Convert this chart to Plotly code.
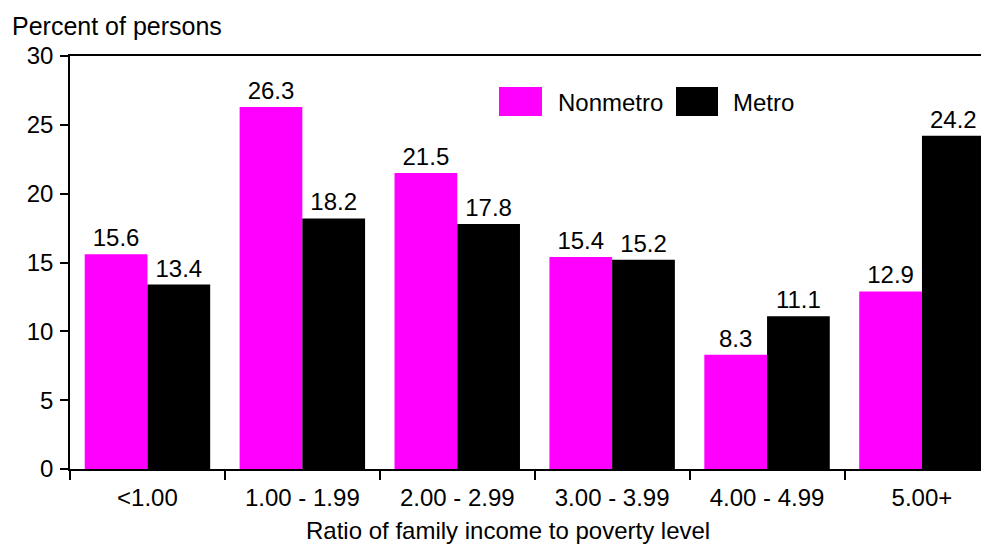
import plotly.graph_objects as go

categories = ["<1.00", "1.00 - 1.99", "2.00 - 2.99", "3.00 - 3.99", "4.00 - 4.99", "5.00+"]
nonmetro = [15.6, 26.3, 21.5, 15.4, 8.3, 12.9]
metro = [13.4, 18.2, 17.8, 15.2, 11.1, 24.2]
y_ticks = [0, 5, 10, 15, 20, 25, 30]

# the page body has an 8px margin; compensate so the figure fills the window
OFF = 8
W, H = 989 - OFF, 546 - OFF
L, T = 70 - OFF, 56 - OFF
BOTTOM_PX = 469 - OFF
B = H - BOTTOM_PX
PW = W - L
PH = H - T - B
FONT = "Liberation Sans, Arial, sans-serif"
FS = 24


def px(x):
    return (x - OFF - L) / PW


def py(y):
    return (BOTTOM_PX - (y - OFF)) / PH


fig = go.Figure()
fig.add_trace(go.Bar(x=categories, y=nonmetro, name="Nonmetro", marker_color="#FF00FF",
                     marker_line_width=0, text=[f"{v:.1f}" for v in nonmetro],
                     textposition="outside", textfont=dict(size=FS, color="black"),
                     cliponaxis=False))
fig.add_trace(go.Bar(x=categories, y=metro, name="Metro", marker_color="#000000",
                     marker_line_width=0, text=[f"{v:.1f}" for v in metro],
                     textposition="outside", textfont=dict(size=FS, color="black"),
                     cliponaxis=False))

fig.update_layout(
    width=W, height=H,
    margin=dict(l=L, r=0, t=T, b=B, pad=0),
    barmode="group", bargap=0.19, bargroupgap=0,
    plot_bgcolor="white", paper_bgcolor="white",
    showlegend=False,
    font=dict(family=FONT, size=FS, color="black"),
    uniformtext=dict(mode=False),
)
fig.update_xaxes(
    range=[-0.5, -0.5 + PW / 154.9], showline=True, linecolor="black", linewidth=1.5,
    mirror=True, ticks="outside", ticklen=9, tickcolor="black", tickwidth=1.5,
    tickson="boundaries", showgrid=False, tickfont=dict(size=FS), fixedrange=True,
    ticklabelstandoff=6,
)
fig.update_yaxes(
    range=[0, 30], tickvals=y_ticks, showline=True, linecolor="black", linewidth=1.5,
    ticks="outside", ticklen=8, tickcolor="black", tickwidth=1.5, showgrid=False,
    zeroline=False, tickfont=dict(size=FS), fixedrange=True, ticklabelstandoff=2,
)

# y-axis title
fig.add_annotation(text="Percent of persons", xref="paper", yref="paper",
                   x=px(10), y=py(26), xanchor="left", yanchor="middle",
                   showarrow=False, font=dict(size=25))
# x-axis title
fig.add_annotation(text="Ratio of family income to poverty level", xref="paper", yref="paper",
                   x=px(508), y=py(546), xanchor="center", yanchor="bottom",
                   showarrow=False, font=dict(size=FS))

# legend
legend_items = [("Nonmetro", "#FF00FF", 499, 542, 556), ("Metro", "#000000", 676, 718, 731)]
for name, color, x0, x1, tx in legend_items:
    fig.add_shape(type="rect", xref="paper", yref="paper", x0=px(x0), x1=px(x1),
                  y0=py(116), y1=py(87), fillcolor=color, line_width=0)
    fig.add_annotation(text=name, xref="paper", yref="paper", x=px(tx), y=py(102),
                       xanchor="left", yanchor="middle", showarrow=False, font=dict(size=FS))

fig.write_html("out.html")
